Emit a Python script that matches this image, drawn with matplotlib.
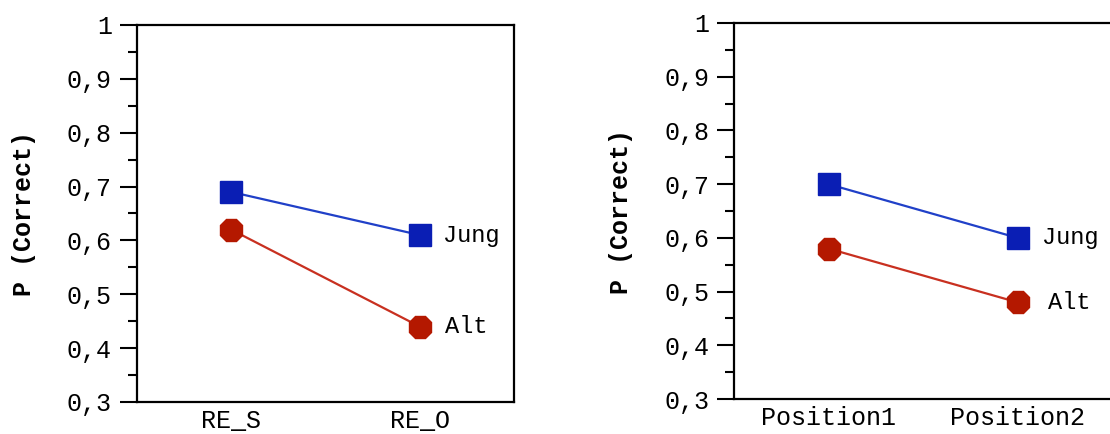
import numpy as np
import matplotlib
matplotlib.use('Agg')
import matplotlib.pyplot as plt
from matplotlib.ticker import MultipleLocator

plt.rcParams['font.family'] = ['Liberation Mono', 'DejaVu Sans Mono']

# Data.
groups = ['Jung', 'Alt']
left_categories = ['RE_S', 'RE_O']
left_jung = [0.69, 0.61]
left_alt = [0.62, 0.44]
right_categories = ['Position1', 'Position2']
right_jung = [0.70, 0.60]
right_alt = [0.58, 0.48]
y_ticks = [0.3, 0.4, 0.5, 0.6, 0.7, 0.8, 0.9, 1.0]
y_tick_labels = ['0,3', '0,4', '0,5', '0,6', '0,7', '0,8', '0,9', '1']
y_label = 'P (Correct)'

blue = '#0a1eb4'
blue_line = '#2040c8'
red = '#b41800'
red_line = '#c83020'

W, H = 1110, 434
fig = plt.figure(figsize=(W / 100, H / 100), dpi=100)
ax_left = fig.add_axes([137 / W, 1 - 402 / H, 377 / W, 377 / H])
ax_right = fig.add_axes([734 / W, 1 - 399 / H, 378 / W, 376 / H])


def draw_panel(ax, categories, jung, alt, offsets):
  x = np.arange(len(categories))
  ax.plot(x, jung, '-', color=blue_line, lw=1.6, marker='s', ms=16,
          mfc=blue, mec=blue, zorder=3)
  ax.plot(x, alt, '-', color=red_line, lw=1.6, marker='8', ms=17,
          mfc=red, mec=red, zorder=3)
  ax.annotate(groups[0], (x[-1], jung[-1]), xytext=(offsets[0], 0),
              textcoords='offset points', va='center', ha='left', fontsize=17)
  ax.annotate(groups[1], (x[-1], alt[-1]), xytext=(offsets[1], 0),
              textcoords='offset points', va='center', ha='left', fontsize=17)
  ax.set_xlim(-0.5, 1.5)
  ax.set_ylim(0.3, 1.0)
  ax.set_xticks(x)
  ax.set_xticklabels(categories, fontsize=18)
  ax.set_yticks(y_ticks)
  ax.set_yticklabels(y_tick_labels, fontsize=18)
  ax.yaxis.set_minor_locator(MultipleLocator(0.05))
  ax.tick_params(axis='y', which='major', length=12, width=1.5, pad=6)
  ax.tick_params(axis='y', which='minor', length=6.5, width=1.5)
  ax.tick_params(axis='x', length=0, pad=5)
  for sp in ax.spines.values():
    sp.set_linewidth(1.6)
  ax.set_ylabel(y_label, fontsize=18, fontweight='bold', labelpad=22)


draw_panel(ax_left, left_categories, left_jung, left_alt, (17, 18))
draw_panel(ax_right, right_categories, right_jung, right_alt, (18, 22))

fig.savefig('out.png', dpi=100)
